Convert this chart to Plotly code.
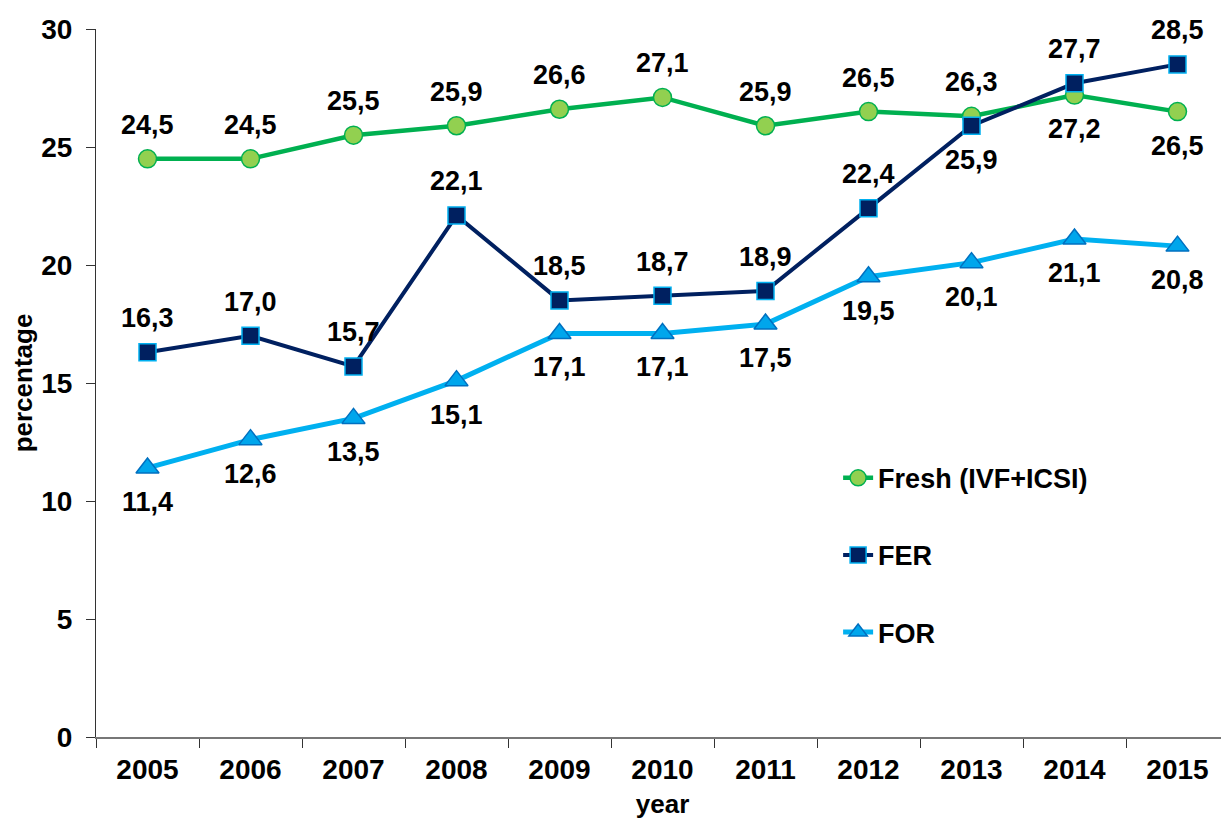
import plotly.graph_objects as go

years = ["2005", "2006", "2007", "2008", "2009", "2010", "2011", "2012", "2013", "2014", "2015"]
fresh = [24.5, 24.5, 25.5, 25.9, 26.6, 27.1, 25.9, 26.5, 26.3, 27.2, 26.5]
fer = [16.3, 17.0, 15.7, 22.1, 18.5, 18.7, 18.9, 22.4, 25.9, 27.7, 28.5]
fo_r = [11.4, 12.6, 13.5, 15.1, 17.1, 17.1, 17.5, 19.5, 20.1, 21.1, 20.8]

# label side per point: 1 = above, -1 = below
fresh_side = [1, 1, 1, 1, 1, 1, 1, 1, 1, -1, -1]
fer_side = [1, 1, 1, 1, 1, 1, 1, 1, -1, 1, 1]
for_side = [-1] * 11

FONT = "Liberation Sans, Arial, sans-serif"

fig = go.Figure()

fig.add_trace(go.Scatter(
    x=years, y=fresh, name="Fresh (IVF+ICSI)", mode="lines+markers",
    line=dict(color="#00B050", width=4.5),
    marker=dict(symbol="circle", size=18, color="#92D050",
                line=dict(color="#00B050", width=1.5)),
    legendgroup="a", cliponaxis=False))

fig.add_trace(go.Scatter(
    x=years, y=fer, name="FER", mode="lines+markers",
    line=dict(color="#002060", width=4),
    marker=dict(symbol="square", size=17, color="#002060",
                line=dict(color="#00B0F0", width=1.5)),
    legendgroup="b", cliponaxis=False))

fig.add_trace(go.Scatter(
    x=years, y=fo_r, name="FOR", mode="lines+markers",
    line=dict(color="#00B0F0", width=5),
    marker=dict(symbol="triangle-up", size=20, color="#00A6EC",
                line=dict(color="#0070C0", width=1.5)),
    legendgroup="c", cliponaxis=False))

# data labels (x as category index)
for vals, sides in [(fresh, fresh_side), (fer, fer_side), (fo_r, for_side)]:
    for i, (v, s) in enumerate(zip(vals, sides)):
        fig.add_annotation(x=i, y=v, xref="x", yref="y",
                           text=f"<b>{v:.1f}</b>".replace(".", ","),
                           showarrow=False, yshift=34 * s,
                           font=dict(family=FONT, size=27, color="black"))

fig.update_xaxes(
    type="category", tickson="boundaries", ticks="outside", ticklen=9,
    tickcolor="#333", showline=True, linecolor="#777", linewidth=2,
    showgrid=False, range=[-0.5, 10.5], automargin=False, ticklabelstandoff=6,
    tickfont=dict(family=FONT, size=28, color="black", weight="bold"),
    title=dict(text="<b>year</b>", font=dict(family=FONT, size=26, color="black"),
               standoff=11))

fig.update_yaxes(
    range=[0, 30], dtick=5, ticks="outside", ticklen=9, tickcolor="#333",
    showline=True, linecolor="#333", linewidth=1, showgrid=False, zeroline=False,
    automargin=False, ticklabelstandoff=8,
    tickfont=dict(family=FONT, size=28, color="black", weight="bold"),
    title=dict(text="<b>percentage</b>", font=dict(family=FONT, size=26, color="black"),
               standoff=21))

# the page body has an 8px margin, so the figure is shifted by 8px
fig.update_layout(
    width=1221, height=816,
    margin=dict(l=88, r=0, t=21, b=87),
    paper_bgcolor="white", plot_bgcolor="white",
    font=dict(family=FONT, size=26, color="black"),
    legend=dict(x=0.655, y=0.40, xanchor="left", yanchor="top",
                traceorder="grouped", tracegroupgap=39,
                font=dict(family=FONT, size=27, color="black", weight="bold"),
                bgcolor="rgba(0,0,0,0)", itemwidth=30),
)

fig.write_html("out.html")
